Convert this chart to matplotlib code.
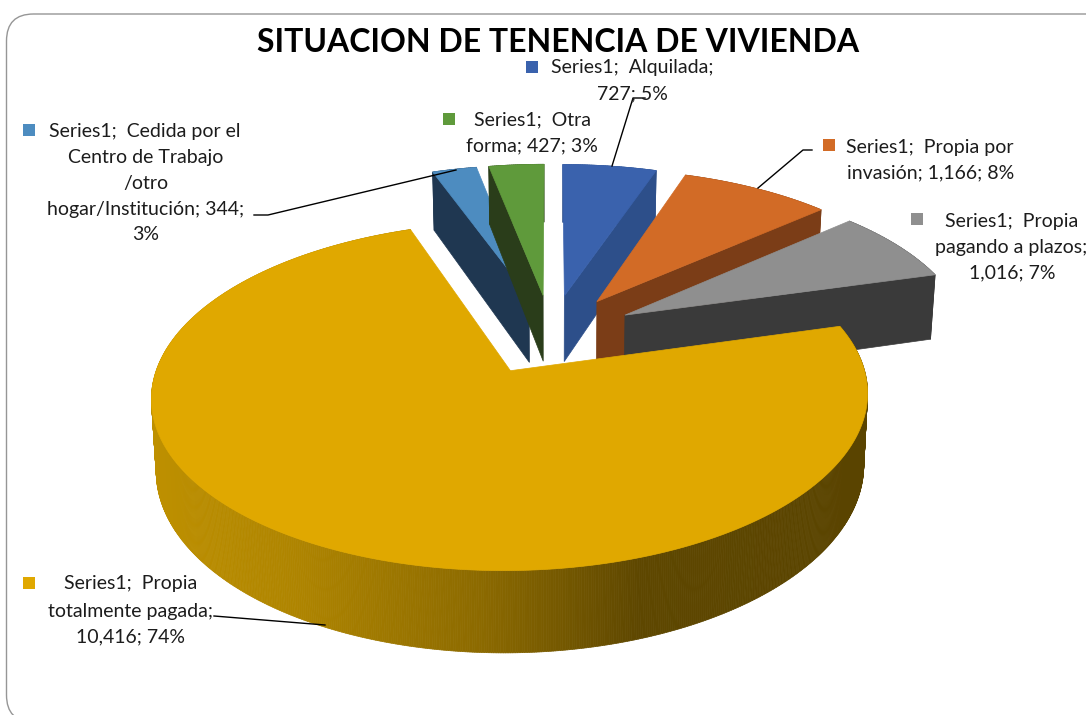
import numpy as np
import matplotlib
matplotlib.use('Agg')
import matplotlib.pyplot as plt
from matplotlib.collections import PolyCollection
from matplotlib.patches import FancyBboxPatch, Polygon, Rectangle

plt.rcParams['font.family'] = ['Lato', 'DejaVu Sans']

TITLE = 'SITUACION DE TENENCIA DE VIVIENDA'
# clockwise from 12 o'clock
CATEGORIES = ['Alquilada', 'Propia por invasión', 'Propia pagando a plazos',
              'Propia totalmente pagada', 'Cedida', 'Otra forma']
VALUES = [727, 1166, 1016, 10416, 344, 427]
TOP_COLORS = ['#3A62AD', '#D26B26', '#8F8F8F', '#E0A800', '#4D8CC0', '#5F9A3B']
CUT_COLORS = ['#2D4F8A', '#7B3D17', '#3A3A3A', None, '#1F3751', '#2A3D1A']
CUT_EDGE = ['end', 'end', 'end', None, 'start', 'start']

# projection of the exploded pie
CX, CY = 551, 334
A, B = 343, 160
K = 0.142
EXPLODE = 0.25
H = 68
SHRINK = 0.988


def project(X, Y, lower=False):
    w = 1 + K * Y
    x = A * X / w
    y = CY - B * Y / w
    if lower:
        x = x * SHRINK
        y = y + H / w
    return CX + x, y


def slice_xy(a0, a1, n):
    t = np.radians(np.linspace(a0, a1, n))
    mid = np.radians((a0 + a1) / 2)
    ox, oy = EXPLODE * np.sin(mid), EXPLODE * np.cos(mid)
    return ox + np.sin(t), oy + np.cos(t), ox, oy


fig = plt.figure(figsize=(10.86, 7.15), dpi=100)
ax = fig.add_axes([0, 0, 1, 1])
ax.set_xlim(0, 1086)
ax.set_ylim(715, 0)
ax.axis('off')

ax.add_patch(FancyBboxPatch((6.5, 14), 1200, 708, boxstyle='round,pad=0,rounding_size=27',
                            fc='white', ec='#969696', lw=1))

angles = np.cumsum([0] + VALUES) / sum(VALUES) * 360

# back slices first, big yellow one last
for i in [4, 5, 0, 1, 2, 3]:
    a0, a1 = angles[i], angles[i + 1]
    n = max(int(a1 - a0) * 3, 12)
    X, Y, ox, oy = slice_xy(a0, a1, n)
    xt, yt = project(X, Y)
    xb, yb = project(X, Y, lower=True)
    ax_apex, ay_apex = project(ox, oy)
    bx_apex, by_apex = project(ox, oy, lower=True)
    quads = [[(xt[k], yt[k]), (xt[k + 1], yt[k + 1]), (xb[k + 1], yb[k + 1]), (xb[k], yb[k])]
             for k in range(n - 1)]

    if CUT_EDGE[i] is not None:
        j = -1 if CUT_EDGE[i] == 'end' else 0
        ax.add_collection(PolyCollection(quads, facecolors=CUT_COLORS[i], edgecolors=CUT_COLORS[i], linewidths=0.5))
        ax.add_patch(Polygon([(ax_apex, ay_apex), (xt[j], yt[j]), (xb[j], yb[j]), (bx_apex, by_apex)],
                             fc=CUT_COLORS[i], ec=CUT_COLORS[i], lw=0.5))
    else:
        # gradient on the outer wall
        stops_x = [150, 300, 480, 640, 870]
        rgb = np.array([[0xBE, 0x90, 0x00], [0xAE, 0x84, 0x00], [0x8C, 0x6A, 0x00],
                        [0x5E, 0x47, 0x00], [0x5A, 0x44, 0x00]]) / 255
        mids = (xt[:-1] + xt[1:]) / 2
        cols = np.column_stack([np.interp(mids, stops_x, rgb[:, c]) for c in range(3)])
        ax.add_collection(PolyCollection(quads, facecolors=cols, edgecolors=cols, linewidths=0.5))

    pts = np.column_stack([np.r_[ax_apex, xt], np.r_[ay_apex, yt]])
    ax.add_patch(Polygon(pts, fc=TOP_COLORS[i], ec=TOP_COLORS[i], lw=0.5))

ax.text(558, 42, TITLE, ha='center', va='center', fontsize=23, fontweight='bold', color='black')

# data labels: lines, x and y of each line centre, key square
LABEL_LINES = [
    (['Series1;  Alquilada;', '727; 5%'], [632, 632], [68, 94], (532, 67), 0),
    (['Series1;  Propia por', 'invasión; 1,166; 8%'], [930, 931], [147, 173], (829, 145), 1),
    (['Series1;  Propia', 'pagando a plazos;', '1,016; 7%'], [1012, 1011, 1012], [221, 247, 273], (917, 219), 2),
    (['Series1;  Propia', 'totalmente pagada;', '10,416; 74%'], [131, 131, 131], [584, 611, 637], (29, 583), 3),
    (['Series1;  Cedida por el', 'Centro de Trabajo', '/otro', 'hogar/Institución; 344;', '3%'],
     [145, 146, 146, 146, 146], [131, 157, 183, 209, 235], (29, 130), 4),
    (['Series1;  Otra', 'forma; 427; 3%'], [532, 532], [120, 146], (449, 119), 5),
]
for lines, xs, ys, key, idx in LABEL_LINES:
    for s, x, y in zip(lines, xs, ys):
        ax.text(x, y, s, ha='center', va='center', fontsize=14, color='#1C1C1C')
    ax.add_patch(Rectangle((key[0] - 6, key[1] - 6), 12, 12, fc=TOP_COLORS[idx], ec='none'))

# leader lines
LEADERS = [
    ([612, 633, 645], [166, 98, 98]),
    ([758, 803, 812], [188, 150, 150]),
    ([254, 268, 456], [215, 215, 170]),
    ([214, 325], [616, 625]),
]
for lx, ly in LEADERS:
    ax.plot(lx, ly, color='black', lw=1)

fig.savefig('out.png', dpi=100)
